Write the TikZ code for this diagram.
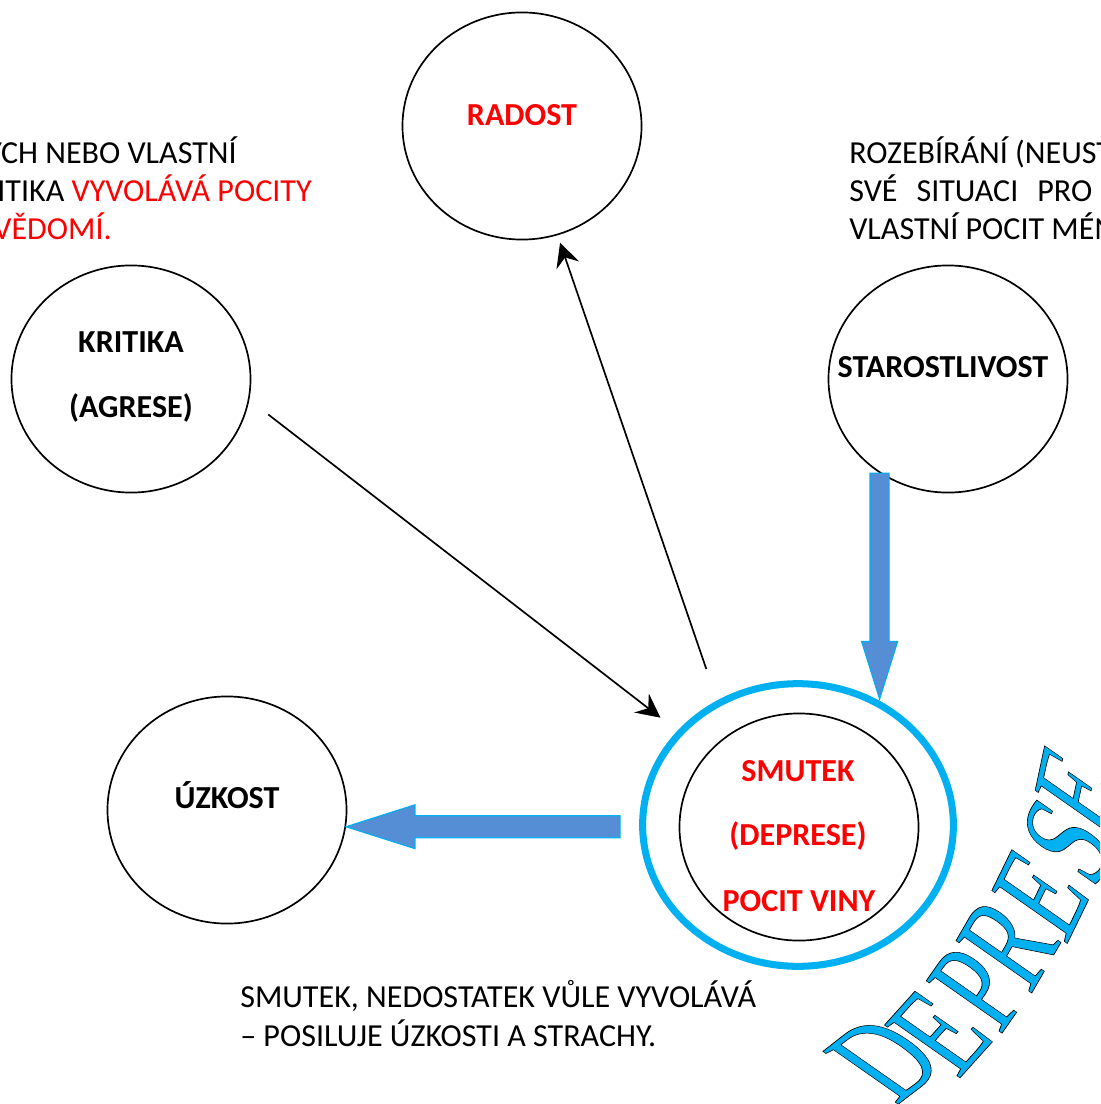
\documentclass[tikz,border=0pt]{standalone}
\usepackage{fontspec}
\setmainfont{Carlito}
\newfontfamily\deprfont{Liberation Serif}
\usetikzlibrary{arrows.meta,shapes.geometric,calc}

\definecolor{ringcyan}{RGB}{0,176,240}
\definecolor{arrowblue}{RGB}{85,142,213}

% outlined letters (fill + black stroke)
\newcommand{\outlined}[1]{\special{pdf:literal direct 2 Tr 0 G 0.5 w}#1\special{pdf:literal direct 0 Tr}}

% one letter of the arched word: name, x, y, angle, letter
\newcommand{\deprlet}[5]{%
  \begin{scope}[shift={(#2,#3)}, rotate=#4, xslant={-tan(55-#4)}, xscale=0.66, yscale={cos(55-#4)}]
    \node[deprletter] (#1) at (0,0) {\outlined{#5}};
  \end{scope}}

% block arrow: tail, tip, half shaft, half head, head length
\newcommand{\fatarrow}[5]{%
  \coordinate (fa-base) at ($(#2)!#5!(#1)$);
  \filldraw[blockarrow] ($(#1)!#3!90:(#2)$) -- ($(fa-base)!#3!90:(#2)$) -- ($(fa-base)!#4!90:(#2)$)
    -- (#2) -- ($(fa-base)!#4!-90:(#2)$) -- ($(fa-base)!#3!-90:(#2)$) -- ($(#1)!#3!-90:(#2)$) -- cycle;}

\tikzset{
  bubble/.style={draw, ellipse, line width=1.2pt, minimum width=170pt, minimum height=161.5pt, inner sep=0pt},
  ring/.style={draw=ringcyan, ellipse, line width=5pt, minimum width=221pt, minimum height=201pt, inner sep=0pt},
  tag/.style={font=\fontsize{22.8}{27}\selectfont\bfseries, anchor=base, inner sep=0pt},
  note/.style={font=\fontsize{22.8}{27}\selectfont, inner sep=0pt},
  thinarrow/.style={line width=1.2pt, -{Stealth[length=17pt,width=17pt,inset=6pt]}},
  blockarrow/.style={fill=arrowblue, draw=ringcyan, line width=0.8pt},
  deprletter/.style={font=\deprfont\fontsize{100}{100}\selectfont, text=ringcyan, inner sep=0pt, anchor=base west, transform shape}
}

\begin{document}
\begin{tikzpicture}[x=0.025cm, y=-0.025cm]
  \path[use as bounding box] (0,0) rectangle (1100,1104);
  \clip (0,0) rectangle (1100,1104);

  % Bubbles
  \node[bubble] (radost) at (522,126) {};
  \node[bubble] (kritika) at (131,379) {};
  \node[bubble] (starost) at (948,379) {};
  \node[bubble] (uzkost) at (227,810) {};
  \node[bubble] (smutek) at (799,827) {};
  \node[ring] (smutekring) at (798,825) {};

  % Bubble texts
  \node[tag, text=red] (radostT) at (522,126) {RADOST};
  \node[tag] (kritikaT) at (131,352) {KRITIKA};
  \node[tag] (agreseT) at (131,417) {(AGRESE)};
  \node[tag] (starostT) at (943,377) {STAROSTLIVOST};
  \node[tag] (uzkostT) at (227,808) {ÚZKOST};
  \node[tag, text=red] (smutekT) at (798,781) {SMUTEK};
  \node[tag, text=red] (depreseT) at (798,845) {(DEPRESE)};
  \node[tag, text=red] (vinyT) at (799,911) {POCIT VINY};

  % Notes
  \node[note, anchor=base east] (leftA) at (237,163) {ÝCH NEBO VLASTNÍ};
  \node[note, anchor=base east] (leftB) at (312,201) {ITIKA \textcolor{red}{VYVOLÁVÁ POCITY}};
  \node[note, anchor=base east, text=red] (leftC) at (112,239) {VĚDOMÍ.};
  \node[note, anchor=base west] (rightA) at (849,163) {ROZEBÍRÁNÍ (NEUST};
  \node[note, anchor=base west] (rightB) at (849,201) {SVÉ\hspace{13.5pt}SITUACI\hspace{13.5pt}PRO};
  \node[note, anchor=base west] (rightC) at (849,239) {VLASTNÍ POCIT MÉN};
  \node[note, anchor=base west] (bottomA) at (240,1007) {SMUTEK, NEDOSTATEK VŮLE VYVOLÁVÁ};
  \node[note, anchor=base west] (bottomB) at (240,1046) {– POSILUJE ÚZKOSTI A STRACHY.};

  % Thin arrows
  \draw[thinarrow, shorten <=17pt, shorten >=15.2pt] (kritika.-10) -- (smutekring.142);
  \draw[thinarrow, shorten <=23.5pt, shorten >=5.6pt] (smutekring.123) -- (radost.-72);

  % Block arrows
  \coordinate (dTop) at (starost.-126);
  \coordinate (dTip) at (dTop |- smutekring.58);
  \fatarrow{dTop}{dTip}{6.8pt}{12.8pt}{41pt}
  \coordinate (lTip) at (uzkost.-8);
  \coordinate (lTail) at ($(lTip -| smutekring.west)+(-19,0)$);
  \fatarrow{lTail}{lTip}{7.8pt}{15.6pt}{49pt}

  % Arched word
  \deprlet{d1}{896}{1106}{38}{D}
  \deprlet{d2}{958}{1080}{48}{E}
  \deprlet{d3}{1000}{1036}{55}{P}
  \deprlet{d4}{1030}{996}{60}{R}
  \deprlet{d5}{1066}{946}{64}{E}
  \deprlet{d6}{1096}{892}{70}{S}
  \deprlet{d7}{1110}{846}{78}{E}
\end{tikzpicture}
\end{document}
